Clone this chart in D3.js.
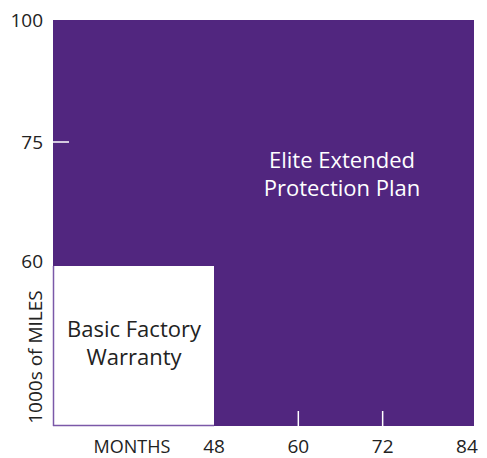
<!DOCTYPE html>
<html>
<head>
<meta charset="utf-8">
<script src="https://cdn.jsdelivr.net/npm/d3@7"></script>
<style>
  body { margin: 0; background: #fff; }
  text { font-family: "Open Sans", sans-serif; fill: #222; }
</style>
</head>
<body>
<svg id="chart"></svg>
<script>
const width = 487, height = 458;

// coverage plans: months and thousands of miles
const planNames = ["Elite Extended Protection Plan", "Basic Factory Warranty"];
const planMonths = [85, 48];
const planMiles = [100, 60];
const planLines = [["Elite Extended", "Protection Plan"], ["Basic Factory", "Warranty"]];

const monthTicks = [48, 60, 72, 84];
const mileTicks = [60, 75, 100];

const purple = "#51267f";

const svg = d3.select("#chart")
    .attr("width", width)
    .attr("height", height);

// schematic axes, not strictly linear
const x = d3.scaleLinear()
    .domain([0, 48, 85])
    .range([53, 214, 474]);

const y = d3.scaleLinear()
    .domain([0, 60, 75, 100])
    .range([426, 266, 142, 20]);

// plan areas, biggest first
svg.selectAll("rect.plan")
    .data(planNames)
    .join("rect")
    .attr("class", "plan")
    .attr("x", x(0))
    .attr("y", (d, i) => y(planMiles[i]))
    .attr("width", (d, i) => x(planMonths[i]) - x(0))
    .attr("height", (d, i) => y(0) - y(planMiles[i]))
    .attr("fill", (d, i) => i === 0 ? purple : "#fff");

// axis lines along the bottom/left
svg.append("line")
    .attr("x1", x(0)).attr("x2", x(48))
    .attr("y1", y(0) - 0.5).attr("y2", y(0) - 0.5)
    .attr("stroke", "#7b58a8").attr("stroke-width", 1.5);
svg.append("line")
    .attr("x1", x(0) + 0.5).attr("x2", x(0) + 0.5)
    .attr("y1", y(60)).attr("y2", y(0))
    .attr("stroke", "#7b58a8").attr("stroke-width", 1.5);

// white tick marks inside the purple
svg.selectAll("line.xtick")
    .data(monthTicks.filter(d => d > 48 && d < 84))
    .join("line")
    .attr("class", "xtick")
    .attr("x1", d => x(d)).attr("x2", d => x(d))
    .attr("y1", y(0) - 15).attr("y2", y(0))
    .attr("stroke", "#fff").attr("stroke-width", 1.5);

svg.selectAll("line.ytick")
    .data(mileTicks.filter(d => d > 60 && d < 100))
    .join("line")
    .attr("class", "ytick")
    .attr("x1", x(0)).attr("x2", x(0) + 16)
    .attr("y1", d => y(d)).attr("y2", d => y(d))
    .attr("stroke", "#fff").attr("stroke-width", 1.5);

// tick labels
svg.selectAll("text.xlab")
    .data(monthTicks)
    .join("text")
    .attr("class", "xlab")
    .attr("x", d => x(d))
    .attr("y", 453)
    .attr("text-anchor", "middle")
    .style("font-size", "19px")
    .text(d => d);

svg.selectAll("text.ylab")
    .data(mileTicks)
    .join("text")
    .attr("class", "ylab")
    .attr("x", 43)
    .attr("y", d => y(d) + (d === 60 ? 2 : 7))
    .attr("text-anchor", "end")
    .style("font-size", "19px")
    .text(d => d);

// axis titles
svg.append("text")
    .attr("x", 132)
    .attr("y", 453)
    .attr("text-anchor", "middle")
    .style("font-size", "18px")
    .text("MONTHS");

svg.append("text")
    .attr("transform", "translate(42,357) rotate(-90)")
    .attr("text-anchor", "middle")
    .style("font-size", "19px")
    .text("1000s of MILES");

// plan labels
const labelPos = [[342, 168], [134, 337]];
planLines.forEach((lines, i) => {
    const t = svg.append("text")
        .attr("text-anchor", "middle")
        .style("font-size", "22px")
        .style("fill", i === 0 ? "#fff" : "#222");
    lines.forEach((s, j) => {
        t.append("tspan")
            .attr("x", labelPos[i][0])
            .attr("y", labelPos[i][1] + j * 28)
            .text(s);
    });
});
</script>
</body>
</html>
